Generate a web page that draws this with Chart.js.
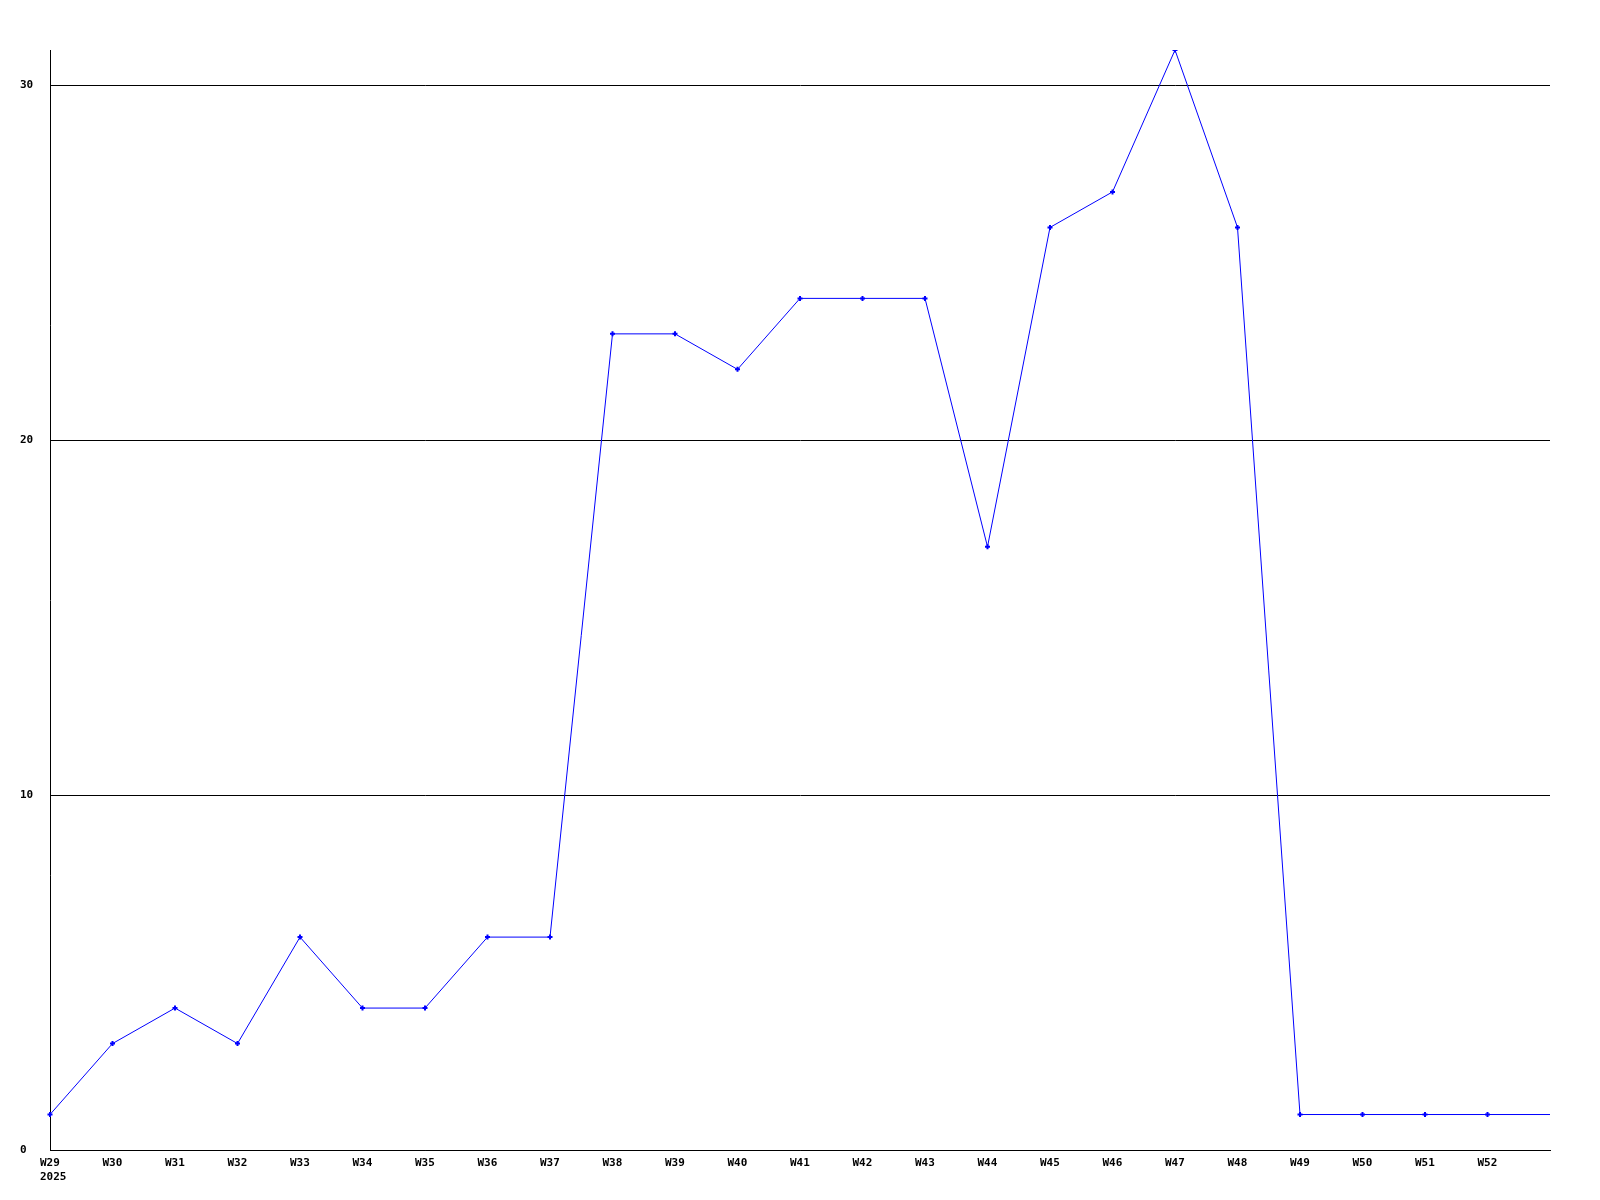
<!DOCTYPE html>
<html>
<head>
<meta charset="utf-8">
<script src="https://cdn.jsdelivr.net/npm/chart.js@4/dist/chart.umd.min.js"></script>
<style>
  html, body { margin: 0; padding: 0; background: #fff; }
  canvas { display: block; }
</style>
</head>
<body>
<canvas id="weekCanvas" width="1600" height="1200"></canvas>
<script>
// weeks, last slot has no label (line just runs on to the edge)
let weekLabels = [['W29', '2025'], 'W30', 'W31', 'W32', 'W33', 'W34', 'W35', 'W36', 'W37', 'W38',
    'W39', 'W40', 'W41', 'W42', 'W43', 'W44', 'W45', 'W46', 'W47', 'W48',
    'W49', 'W50', 'W51', 'W52', ''];
let weekValues = [1, 3, 4, 3, 6, 4, 4, 6, 6, 23,
    23, 22, 24, 24, 24, 17, 26, 27, 31, 26,
    1, 1, 1, 1, 1];
let yTicks = [0, 10, 20, 30];

let canvas = document.getElementById("weekCanvas");
let ctx = canvas.getContext("2d");

let tickFont = { family: "'DejaVu Sans Mono', monospace", size: 11, weight: 'bold' };

let pointSizes = weekValues.map((v, i) => i < weekValues.length - 1 ? 2.5 : 0);

let myChart = new Chart(ctx, {
    type: 'line',
    data: {
        labels: weekLabels,
        datasets: [{
            data: weekValues,
            borderColor: '#0000ff',
            backgroundColor: '#0000ff',
            borderWidth: 1,
            pointStyle: 'cross',
            pointRadius: pointSizes,
            pointBorderWidth: 2,
            tension: 0,
            fill: false
        }]
    },
    options: {
        responsive: false,
        animation: false,
        layout: { padding: { top: 50, right: 50, left: 20, bottom: 0 } },
        plugins: {
            legend: { display: false },
            tooltip: { enabled: false }
        },
        scales: {
            x: {
                type: 'category',
                offset: false,
                grid: { display: false, drawTicks: false },
                border: { display: true, color: '#000', width: 1 },
                ticks: {
                    color: '#000',
                    font: tickFont,
                    padding: 7,
                    autoSkip: false,
                    maxRotation: 0,
                    minRotation: 0,
                    align: 'start',
                    labelOffset: -10
                },
                afterFit: function (scale) { scale.height = 50; }
            },
            y: {
                min: 0,
                max: 31,
                grid: { color: '#000', lineWidth: 1, drawTicks: false },
                border: { display: true, color: '#000', width: 1 },
                ticks: {
                    color: '#000',
                    font: tickFont,
                    padding: 17,
                    crossAlign: 'far'
                },
                afterBuildTicks: function (axis) {
                    axis.ticks = yTicks.map(v => ({ value: v }));
                },
                afterFit: function (scale) { scale.width = 30; }
            }
        }
    }
});
</script>
</body>
</html>
